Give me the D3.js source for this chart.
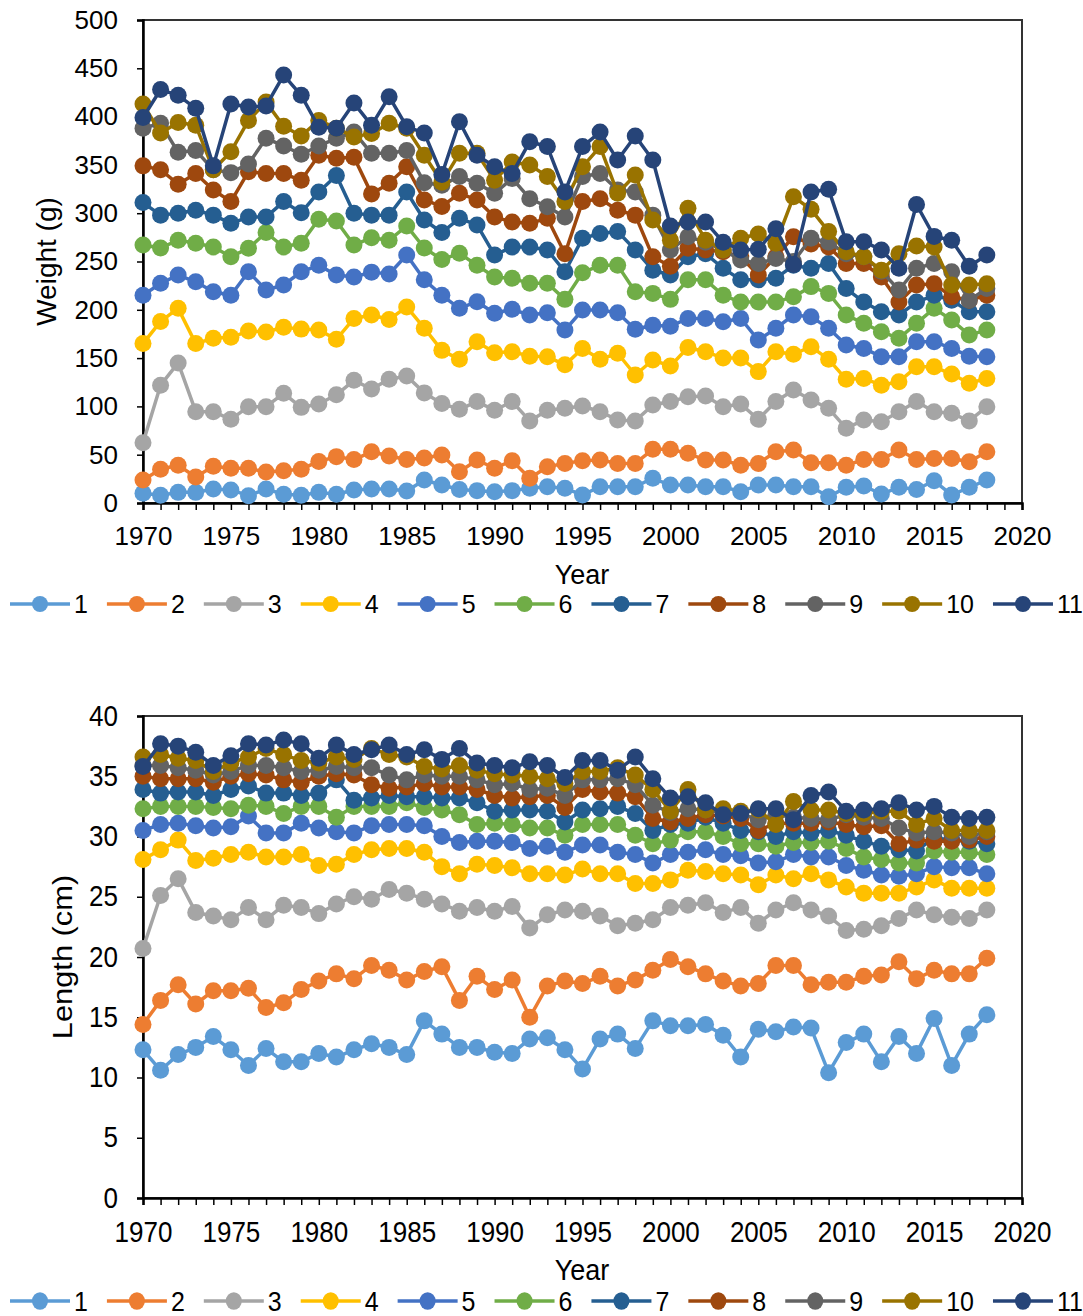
<!DOCTYPE html>
<html>
<head>
<meta charset="utf-8">
<script src="https://cdn.jsdelivr.net/npm/d3@7"></script>
<style>
  body { margin: 0; background: #fff; }
  svg { display: block; font-family: "Liberation Sans", Arial, sans-serif; }
</style>
</head>
<body>
<svg id="chart" width="1083" height="1316"></svg>
<script>
// years 1970..2018
const years = d3.range(1970, 2019);
const seriesNames = ["1", "2", "3", "4", "5", "6", "7", "8", "9", "10", "11"];
const colors = ["#5B9BD5", "#ED7D31", "#A5A5A5", "#FFC000", "#4472C4", "#70AD47",
                "#255E91", "#9E480E", "#636363", "#997300", "#264478"];

// weight (g)
const w1 = [10,8,11,11,14.5,13.5,7.6,14.5,9,8, 11,9,13.5,14.5,14.5,12.4,23.8,18.6,14,12.8, 11.7,12.8,15.2,16.9,15.2,8.3,16.9,16.9,16.9,25.6, 18.6,18.6,16.9,16.9,11.7,18.6,18.6,16.9,16.9,6.5, 16.2,17.6,9.3,16.2,14,23,8.3,16.2,23.8];
const w2 = [23.8,35,39,27,38,36,36,32,33.5,35, 43,48,45,53,48.6,45,46.5,49.7,32.4,44.5, 36,43.8,25.6,37.6,41,43.8,44.5,41,41,55.6, 55.6,51.4,44.5,44.5,39,41,53,54.8,41.7,41.7, 39,45,45,54.8,45,46,46,42.8,53];
const w3 = [62.4,122,145,94.5,94.5,86.6,99.7,99.7,113.5,99, 102.5,112,127,118,128,131.5,114,103,97,105, 96,105,85,96,98,100.4,94.5,86,85,101.4, 105,110,110.7,99.7,102.5,86.6,105,117,106.6,98, 77.3,86,84,94.5,105,94.5,92.8,85,99.7];
const w4 = [165,188,201.5,165,170.5,171.5,178,177,182,180, 179,169.5,191,194.6,190,203,181,158,148.7,167, 155.6,156.6,152,151.5,143,160,148.7,155,132.5,148, 141.8,161,156.6,150,150,136,156.6,154,161.8,148.7, 128,129,122,125.6,141,141,133.5,124,129];
const w5 = [215,227.4,236,229,218.7,215,239.4,220.5,225.7,239.4, 246,236,234,239,237,256.7,231,215,201.5,208.4, 196.4,200.5,194.6,197,179,199.8,199.8,197,179.8,184, 183,191,191,187.7,191,168.7,180.8,194.6,192.9,180.8, 163.6,160,151.5,151.5,167,167,160,152,151.5];
const w6 = [267,264,272,269,265,255,263.6,280,265,269, 293.7,292,267,274.6,272,286.8,264,252,258.5,246, 234,232.6,227.4,227.4,210.8,238.4,246,246,218.7,217, 210.8,231,231,215,208,208,208,213.6,224,217, 194.6,186,177.3,170.5,186,201.5,189.4,174,179];
const w7 = [311,298,300,303,298,289.5,296,296,312,300.5, 322,339,300,298,298,322,293,280,294.7,287.8, 256.7,265,265,262,239.4,274,279,281,262,241, 236,255,258,243,231,231,232.6,246,243,248, 222,208,198,194.6,208,215,210,198,198];
const w8 = [349,345,330,341,324,312,343,341,341,334, 360,357,358,320,331,348,313.7,307,320.6,313.7, 296,291,289.5,294.7,258,312,315,303,298,255, 245,263.6,262,260,255,236,255,275.7,268,265, 248,248,234,208,225.7,227,213.6,210,215];
const w9 = [388,393,363,365,345,342,351,377.5,369.6,361, 369.6,377.5,384,362,362,365,331.6,329,338,331, 320.6,336,315,306.7,296,338,341,324,322,298, 262,275.7,270,262,251.6,248,253,250,274,270, 258,255,240,220.5,243,248,239.4,210,222];
const w10 = [413,383,394,391,345,363.7,396,415,390,380, 396,388,379,382.6,393,388,360,332,362,362, 334,353,350,338,312,348,369,320.6,339.5,293, 272,305,272,262,274,278.5,269,317,304,281, 260,255,241,258,266,265,225.7,225.7,227];
const w11 = [399,428,422,408.6,349,413,410,411,443,422, 389,388,414,391,420.6,389.6,383,340,394.7,360, 348,341,374,369,322,369,384,355,380,355, 286.7,291,291,270,262,262.6,284,247,322,324.7, 270.5,270.5,262,243,309,276,272,245,256.7];

// length (cm)
const l1 = [12.3,10.6,11.9,12.5,13.4,12.3,11.0,12.4,11.3,11.3, 12.0,11.7,12.3,12.8,12.5,11.9,14.7,13.6,12.5,12.5, 12.1,12.0,13.2,13.3,12.3,10.7,13.2,13.6,12.4,14.7, 14.3,14.3,14.4,13.5,11.7,14.0,13.8,14.2,14.1,10.4, 12.9,13.6,11.3,13.4,12.0,14.9,11.0,13.6,15.2];
const l2 = [14.4,16.4,17.7,16.1,17.2,17.2,17.4,15.8,16.2,17.3, 18.0,18.6,18.2,19.3,18.9,18.1,18.8,19.2,16.4,18.4, 17.3,18.1,15.0,17.6,18.0,17.8,18.4,17.6,18.1,18.9, 19.8,19.2,18.6,18.0,17.6,17.8,19.3,19.3,17.7,17.9, 17.9,18.4,18.5,19.6,18.2,18.9,18.6,18.6,19.9];
const l3 = [20.7,25.1,26.5,23.7,23.4,23.1,24.1,23.1,24.3,24.1, 23.6,24.4,25.0,24.8,25.6,25.3,24.8,24.4,23.8,24.1, 23.8,24.2,22.4,23.5,23.9,23.8,23.4,22.6,22.8,23.1, 24.1,24.3,24.5,23.7,24.1,22.8,23.9,24.5,23.9,23.4, 22.2,22.3,22.6,23.2,23.9,23.5,23.3,23.2,23.9];
const l4 = [28.1,28.9,29.7,28.0,28.2,28.5,28.7,28.3,28.3,28.5, 27.6,27.7,28.5,28.9,29.0,29.0,28.7,27.5,26.9,27.7, 27.6,27.4,26.9,26.9,26.8,27.3,26.9,26.9,26.1,26.1, 26.4,27.2,27.1,26.9,26.8,26.0,26.8,26.5,26.9,26.4, 25.8,25.3,25.3,25.3,25.8,26.4,25.7,25.7,25.7];
const l5 = [30.5,31.0,31.1,30.9,30.7,30.8,31.7,30.3,30.3,31.1, 30.7,30.4,30.3,30.9,31.0,31.0,30.9,30.0,29.5,29.6, 29.6,29.5,29.0,29.2,28.7,29.3,29.3,28.7,28.5,27.8, 28.5,28.7,28.9,28.5,28.4,27.8,27.9,28.5,28.3,28.3, 27.6,27.2,26.8,26.7,26.9,27.5,27.4,27.4,26.9];
const l6 = [32.3,32.5,32.5,32.5,32.4,32.3,32.6,32.5,31.9,32.5, 32.5,31.6,32.5,32.5,32.5,32.8,32.4,32.2,31.8,31.0, 31.1,31.0,30.7,30.7,30.1,31.0,31.0,31.0,30.1,29.4, 29.7,30.4,30.4,30.0,29.4,29.4,29.2,29.5,29.5,29.6, 29.0,28.3,28.1,27.8,27.8,28.8,28.7,28.7,28.5];
const l7 = [33.9,33.6,33.7,33.7,33.4,33.9,34.2,33.6,33.6,33.4, 33.6,34.7,33.0,33.2,33.4,33.3,33.3,33.2,33.2,32.8, 32.1,32.2,32.2,32.1,31.2,32.2,32.3,32.5,31.9,30.5, 31.0,31.1,31.6,31.1,30.5,30.4,30.0,30.4,30.3,30.5, 30.1,29.6,29.2,28.9,28.8,29.9,29.7,29.6,29.4];
const l8 = [35.0,34.8,34.8,34.8,34.5,35.0,35.2,35.1,34.7,34.5, 35.0,35.2,35.1,34.3,34.0,34.1,34.4,34.1,34.1,33.9, 33.4,33.2,33.3,33.4,32.4,33.9,33.7,33.6,33.3,31.5, 31.2,31.5,31.8,31.7,31.5,30.5,31.1,31.1,31.1,31.2, 31.0,30.8,30.9,29.4,29.7,29.6,29.6,29.7,30.0];
const l9 = [35.9,35.9,35.7,35.5,35.1,35.4,35.9,35.9,35.7,35.4, 35.5,35.8,35.7,35.7,35.1,34.7,35.1,35.0,35.0,34.7, 34.3,34.4,33.9,34.0,33.4,34.7,34.7,34.8,34.3,32.6, 32.0,32.3,32.2,32.0,31.9,31.4,31.8,31.6,31.5,31.4, 31.8,31.6,31.5,30.7,30.3,30.4,30.3,30.0,30.4];
const l10 = [36.6,36.8,36.5,36.3,35.4,36.1,36.6,37.3,36.8,36.3, 36.1,36.6,36.4,37.3,36.8,36.6,35.8,35.6,35.9,35.5, 35.2,35.1,35.0,34.8,34.4,35.4,35.4,35.7,35.1,33.9, 32.1,33.9,32.2,32.3,32.1,32.2,31.0,32.9,32.2,32.2, 31.9,31.9,32.1,32.1,31.0,31.5,30.5,30.5,30.5];
const l11 = [35.8,37.7,37.5,37.0,35.9,36.7,37.7,37.6,38.0,37.7, 36.5,37.6,36.8,37.2,37.6,36.8,37.2,36.4,37.3,36.1, 35.9,35.7,36.2,35.9,34.9,36.3,36.3,35.5,36.6,34.8, 33.2,33.3,32.8,31.8,31.9,32.3,32.3,31.4,33.4,33.7, 32.1,32.2,32.3,32.8,32.2,32.5,31.6,31.5,31.6];

const weightSeries = [w1, w2, w3, w4, w5, w6, w7, w8, w9, w10, w11];
const lengthSeries = [l1, l2, l3, l4, l5, l6, l7, l8, l9, l10, l11];

const svg = d3.select("#chart");
const left = 143, right = 1022;

// stretch text vertically around its anchor (lower chart text is taller)
function stretch(sel, sy) {
  if (sy === 1) return;
  sel.each(function() {
    const t = d3.select(this);
    const tx = +t.attr("x") || 0, ty = +t.attr("y") || 0;
    t.attr("transform", `translate(${tx},${ty}) scale(1,${sy}) translate(${-tx},${-ty})`);
  });
}

function panel(o) {
  const x = d3.scaleLinear().domain([1970, 2020]).range([left, right]);
  const y = d3.scaleLinear().domain([0, o.yMax]).range([o.bottom, o.top]);
  const g = svg.append("g");

  g.append("rect")
    .attr("x", left).attr("y", o.top)
    .attr("width", right - left).attr("height", o.bottom - o.top)
    .attr("fill", "none").attr("stroke", "#333").attr("stroke-width", 2);

  const xa = g.append("g")
    .attr("transform", `translate(0,${o.bottom})`)
    .call(d3.axisBottom(x).tickValues(d3.range(1970, 2021)).tickSize(7)
      .tickFormat(d => d % 5 === 0 ? d : ""));
  xa.select(".domain").attr("stroke", "#000").attr("stroke-width", 2.5);
  xa.selectAll(".tick line").attr("stroke", "#000").attr("stroke-width", 1.5);
  xa.selectAll("text").attr("font-size", 26).attr("fill", "#000").attr("y", 24).attr("dy", "0.71em")
    .attr("font-family", "Liberation Sans, Arial, sans-serif");
  stretch(xa.selectAll("text"), o.sy);

  const ya = g.append("g")
    .attr("transform", `translate(${left},0)`)
    .call(d3.axisLeft(y).ticks(o.yMax / o.yStep).tickSize(6).tickPadding(19));
  ya.select(".domain").attr("stroke", "#000").attr("stroke-width", 2.5);
  ya.selectAll(".tick line").attr("stroke", "#000").attr("stroke-width", 1.5);
  ya.selectAll("text").attr("font-size", 26).attr("fill", "#000")
    .attr("font-family", "Liberation Sans, Arial, sans-serif");
  stretch(ya.selectAll("text"), o.sy);

  const line = d3.line().x((d, i) => x(years[i])).y(d => y(d));

  o.data.forEach((s, k) => {
    const sg = g.append("g");
    sg.append("path")
      .datum(s)
      .attr("d", line)
      .attr("fill", "none")
      .attr("stroke", colors[k])
      .attr("stroke-width", 3.5)
      .attr("stroke-linejoin", "round");
    sg.selectAll("circle")
      .data(s)
      .enter()
      .append("circle")
      .attr("cx", (d, i) => x(years[i]))
      .attr("cy", d => y(d))
      .attr("r", 8.5)
      .attr("fill", colors[k]);
  });

  svg.append("text")
    .attr("transform", `translate(${o.yLabelX},${(o.top + o.bottom) / 2}) rotate(-90) scale(${o.sy},1)`)
    .attr("text-anchor", "middle")
    .attr("dy", "0.35em")
    .attr("font-size", 28)
    .text(o.yLabel);

  const xt = svg.append("text")
    .attr("x", 582).attr("y", o.bottom + o.titleOffset)
    .attr("text-anchor", "middle")
    .attr("dy", "0.35em")
    .attr("font-size", 27)
    .text("Year");
  stretch(xt, o.sy);

  // legend
  const ly = o.bottom + o.legendOffset;
  let sx = 10;
  seriesNames.forEach((name, k) => {
    const lg = svg.append("g");
    lg.append("line")
      .attr("x1", sx).attr("x2", sx + 60)
      .attr("y1", ly).attr("y2", ly)
      .attr("stroke", colors[k]).attr("stroke-width", 3.5);
    lg.append("ellipse")
      .attr("cx", sx + 30).attr("cy", ly)
      .attr("rx", 8).attr("ry", 8 * o.sy)
      .attr("fill", colors[k]);
    const t = lg.append("text")
      .attr("x", sx + 64).attr("y", ly)
      .attr("dy", "0.35em")
      .attr("font-size", 25)
      .text(name);
    const w = t.node().getComputedTextLength();
    stretch(t, o.sy);
    sx += 64 + w + 19;
  });
}

panel({ top: 20, bottom: 503, yMax: 500, yStep: 50, data: weightSeries,
        yLabel: "Weight (g)", yLabelX: 46, titleOffset: 72, legendOffset: 101, sy: 1 });
panel({ top: 716, bottom: 1198, yMax: 40, yStep: 5, data: lengthSeries,
        yLabel: "Length (cm)", yLabelX: 62, titleOffset: 72, legendOffset: 103, sy: 1.1 });
</script>
</body>
</html>
